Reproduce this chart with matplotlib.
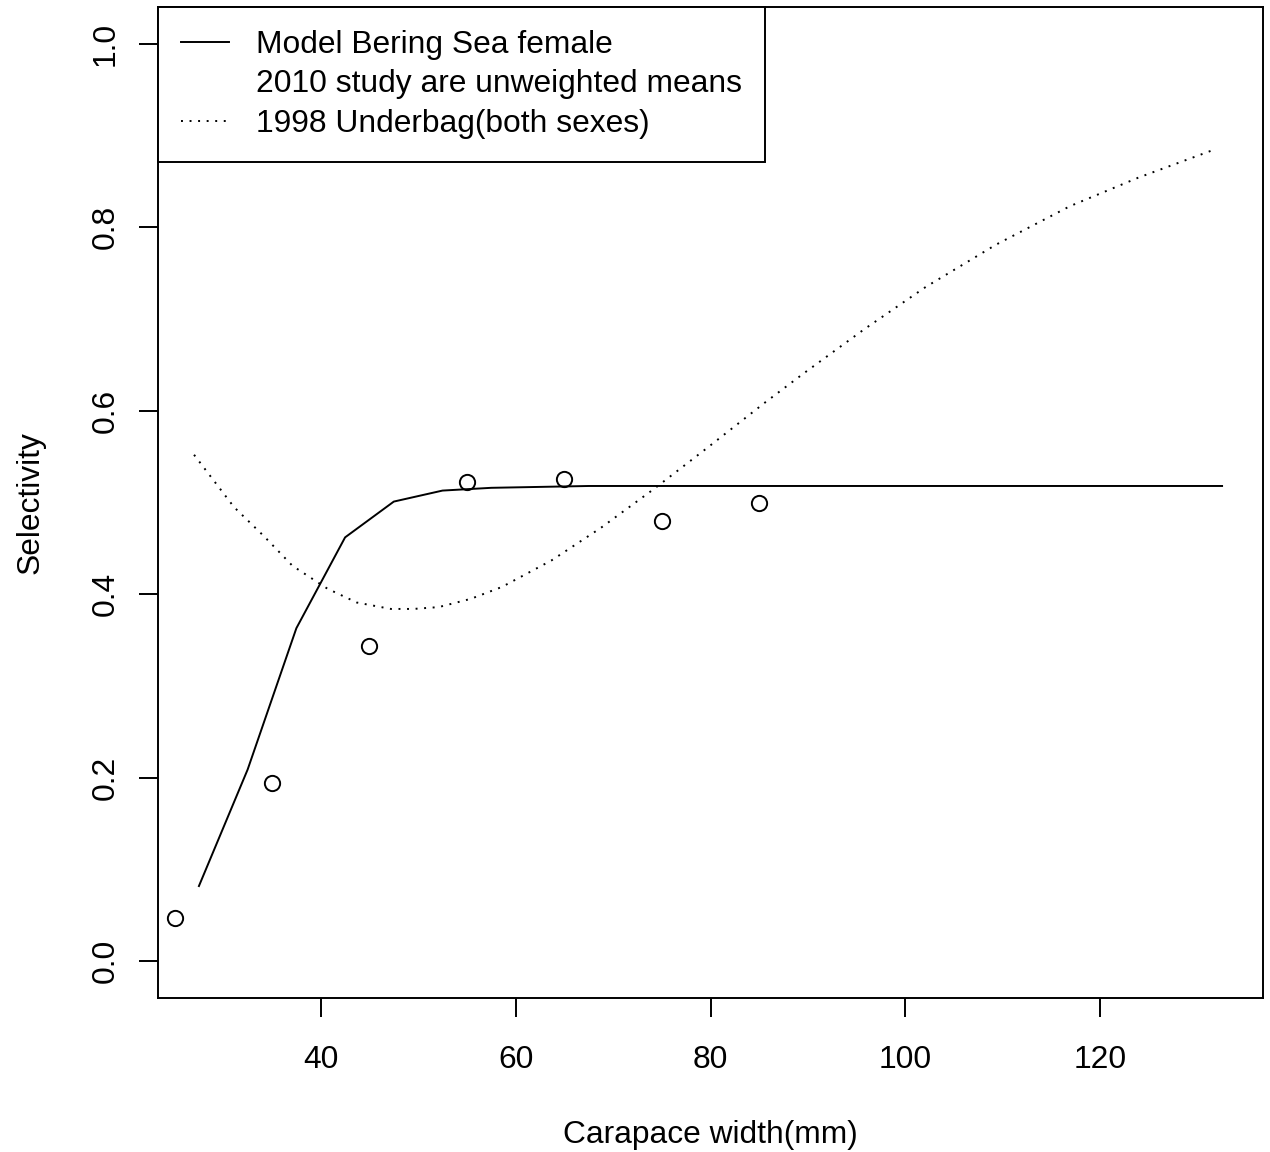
import matplotlib
matplotlib.use('Agg')
import matplotlib.pyplot as plt
from matplotlib.lines import Line2D

plt.rcParams['font.family'] = ['Liberation Sans', 'DejaVu Sans']

# Model selectivity, Bering Sea female
model_cw = [27.5, 32.5, 37.5, 42.5, 47.5, 52.5, 57.5, 62.5, 67.5, 72.5, 77.5, 82.5,
            87.5, 92.5, 97.5, 102.5, 107.5, 112.5, 117.5, 122.5, 127.5, 132.5]
model_sel = [0.082, 0.209, 0.363, 0.462, 0.501, 0.513, 0.516, 0.517, 0.518, 0.518, 0.518, 0.518,
             0.518, 0.518, 0.518, 0.518, 0.518, 0.518, 0.518, 0.518, 0.518, 0.518]

# 2010 study, unweighted means
study_cw = [25, 35, 45, 55, 65, 75, 85]
study_sel = [0.047, 0.194, 0.344, 0.522, 0.526, 0.480, 0.500]

# 1998 underbag curve (both sexes)
under_cw = [27.0, 31.1, 34.2, 37.1, 40.7, 43.7, 47.2, 49.5, 52.1, 55.4, 58.6, 63.7,
            68.7, 74.1, 79.6, 85.6, 89.6, 95.8, 102.1, 109.3, 116.9, 123.9, 131.8]
under_sel = [0.552, 0.495, 0.463, 0.431, 0.406, 0.391, 0.384, 0.384, 0.386, 0.395, 0.408, 0.437,
             0.472, 0.514, 0.559, 0.609, 0.641, 0.689, 0.735, 0.781, 0.823, 0.854, 0.885]

fs = 22.9
lw = 1.4

fig = plt.figure(figsize=(12.7, 11.52), dpi=100)
ax = fig.add_axes([158/1270, 1 - 998/1152, 1105/1270, 991/1152])

ax.plot(model_cw, model_sel, color='black', lw=lw)
ax.plot(study_cw, study_sel, linestyle='none', marker='o', markersize=11,
        markerfacecolor='none', markeredgecolor='black', markeredgewidth=lw)
ax.plot(under_cw, under_sel, color='black', lw=lw, dashes=(1, 3.4))

ax.set_xlim(23.3, 136.7)
ax.set_ylim(-0.04, 1.04)
ax.set_xticks([40, 60, 80, 100, 120])
ax.set_yticks([0.0, 0.2, 0.4, 0.6, 0.8, 1.0])
ax.set_yticklabels(['0.0', '0.2', '0.4', '0.6', '0.8', '1.0'])

for s in ax.spines.values():
    s.set_linewidth(lw)
ax.tick_params(axis='both', length=13.7, width=lw, labelsize=fs)
ax.tick_params(axis='x', pad=20)
ax.tick_params(axis='y', pad=13, labelrotation=90)
for t in ax.get_yticklabels():
    t.set_va('center')

ax.set_xlabel('Carapace width(mm)', fontsize=fs)
ax.set_ylabel('Selectivity', fontsize=fs)
ax.xaxis.set_label_coords(0.5, -0.123)
ax.yaxis.set_label_coords(-0.102, 0.5)

handles = [Line2D([], [], color='black', lw=lw),
           Line2D([], [], linestyle='none'),
           Line2D([], [], color='black', lw=lw, dashes=(1, 3.4))]
labels = ['Model Bering Sea female', '2010 study are unweighted means', '1998 Underbag(both sexes)']
leg = ax.legend(handles, labels, loc='upper left', borderaxespad=0, fontsize=fs,
                fancybox=False, edgecolor='black', framealpha=1, borderpad=0.72,
                handlelength=1.5, handletextpad=0.85, labelspacing=0.3)
leg.get_frame().set_linewidth(lw)

fig.savefig('out.png', dpi=100)
